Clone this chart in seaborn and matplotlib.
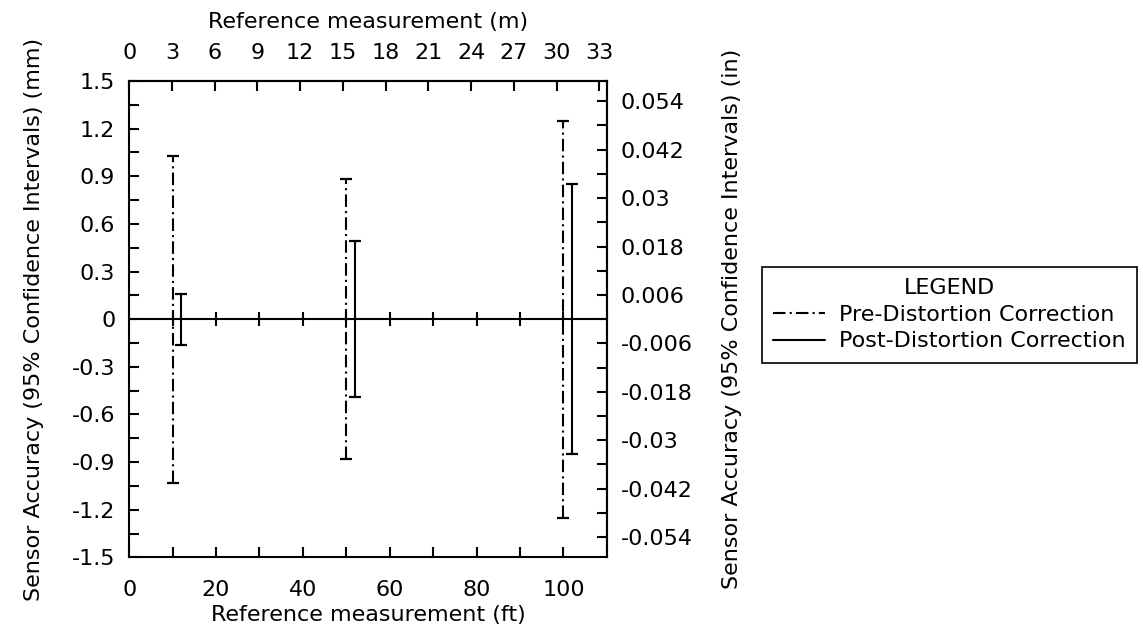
"""
Sensor accuracy before and after distortion correction.
"""
import matplotlib
matplotlib.use('Agg')
import matplotlib.pyplot as plt
import seaborn as sns
from matplotlib.lines import Line2D
from matplotlib.ticker import FormatStrFormatter

# reference distances (ft) and half width of the 95% CI (mm)
pre_ft = [10, 50, 100]
pre_ci = [1.03, 0.88, 1.25]
post_ft = [12, 52, 102]
post_ci = [0.16, 0.49, 0.85]

series_labels = ['Pre-Distortion Correction', 'Post-Distortion Correction']

ft_ticks = [0, 20, 40, 60, 80, 100]
ft_minor = [10, 30, 50, 70, 90]
zero_ticks = [10, 20, 30, 40, 50, 60, 70, 80, 90, 100]
m_ticks = [0, 3, 6, 9, 12, 15, 18, 21, 24, 27, 30, 33]
mm_ticks = [-1.5, -1.2, -0.9, -0.6, -0.3, 0, 0.3, 0.6, 0.9, 1.2, 1.5]
mm_minor = [-1.35, -1.05, -0.75, -0.45, -0.15, 0.15, 0.45, 0.75, 1.05, 1.35]
in_ticks = [-0.054, -0.042, -0.03, -0.018, -0.006, 0.006, 0.018, 0.03, 0.042, 0.054]
in_minor = [-0.048, -0.036, -0.024, -0.012, 0, 0.012, 0.024, 0.036, 0.048]

FT_TO_M = 0.3048
MM_TO_IN = 1 / 25.4
FS = 16

sns.set_theme(style='ticks', rc={'text.color': 'black', 'axes.labelcolor': 'black',
                                 'xtick.color': 'black', 'ytick.color': 'black',
                                 'axes.edgecolor': 'black'})
plt.rcParams['font.family'] = ['DejaVu Sans']
plt.rcParams['font.size'] = FS
plt.rcParams['axes.labelsize'] = FS
plt.rcParams['lines.scale_dashes'] = False

pre_dash = (0, (9, 3, 1.5, 3))
LW = 1.5
BAR_LW = 1.5
TICK = dict(direction='in', length=7, width=LW, colors='black', labelsize=FS)

fig = plt.figure(figsize=(11.43, 6.32), dpi=100)
ax = fig.add_axes([0.113, 0.118, 0.418, 0.754])

eb = ax.errorbar(pre_ft, [0] * len(pre_ft), yerr=pre_ci, fmt='none',
                 ecolor='black', elinewidth=BAR_LW, capsize=4.3, capthick=1.6)
eb[2][0].set_linestyle(pre_dash)
ax.errorbar(post_ft, [0] * len(post_ft), yerr=post_ci, fmt='none',
            ecolor='black', elinewidth=BAR_LW, capsize=4.5, capthick=1.6)

ax.set_xlim(0, 110)
ax.set_ylim(-1.5, 1.5)
ax.set_xticks(ft_ticks)
ax.set_xticks(ft_minor, minor=True)
ax.set_yticks(mm_ticks)
ax.set_yticks(mm_minor, minor=True)
ax.yaxis.set_major_formatter(FormatStrFormatter('%g'))
ax.tick_params(axis='both', which='both', **TICK)
ax.tick_params(axis='x', which='both', pad=16)
ax.tick_params(axis='y', which='both', pad=10)
for s in ax.spines.values():
    s.set_linewidth(LW)
ax.set_xlabel('Reference measurement (ft)', fontsize=FS, labelpad=4)
ax.set_ylabel('Sensor Accuracy (95% Confidence Intervals) (mm)', fontsize=FS,
              labelpad=20)

# zero axis with ticks crossing it
zero = ax.secondary_xaxis(0.5)
zero.set_xticks(zero_ticks)
zero.tick_params(which='both', direction='inout', length=10, width=LW,
                 colors='black', labeltop=False, labelbottom=False)
for s in zero.spines.values():
    s.set_linewidth(LW)

# top axis in metres
top = ax.secondary_xaxis('top', functions=(lambda f: f * FT_TO_M,
                                           lambda m: m / FT_TO_M))
top.set_xticks(m_ticks)
top.tick_params(which='both', **TICK)
top.tick_params(pad=13)
top.spines['top'].set_linewidth(LW)
top.set_xlabel('Reference measurement (m)', fontsize=FS, labelpad=11)

# right axis in inches
right = ax.secondary_yaxis('right', functions=(lambda mm: mm * MM_TO_IN,
                                               lambda i: i / MM_TO_IN))
right.set_yticks(in_ticks)
right.set_yticks(in_minor, minor=True)
right.yaxis.set_major_formatter(FormatStrFormatter('%g'))
right.tick_params(which='both', **TICK)
right.tick_params(which='both', pad=10)
right.spines['right'].set_linewidth(LW)
right.set_ylabel('Sensor Accuracy (95% Confidence Intervals) (in)', fontsize=FS,
                 labelpad=21)

handles = [Line2D([], [], color='black', lw=BAR_LW, linestyle=pre_dash),
           Line2D([], [], color='black', lw=BAR_LW)]
leg = fig.legend(handles, series_labels, title='LEGEND', loc='upper left',
                 bbox_to_anchor=(0.667, 0.5775), frameon=True, fancybox=False,
                 edgecolor='black', framealpha=1, borderpad=0.5,
                 labelspacing=0.3, handlelength=2.3, handletextpad=0.65,
                 borderaxespad=0, fontsize=FS, title_fontsize=FS)
leg.get_frame().set_linewidth(1.2)

fig.savefig('out.png', dpi=100)
